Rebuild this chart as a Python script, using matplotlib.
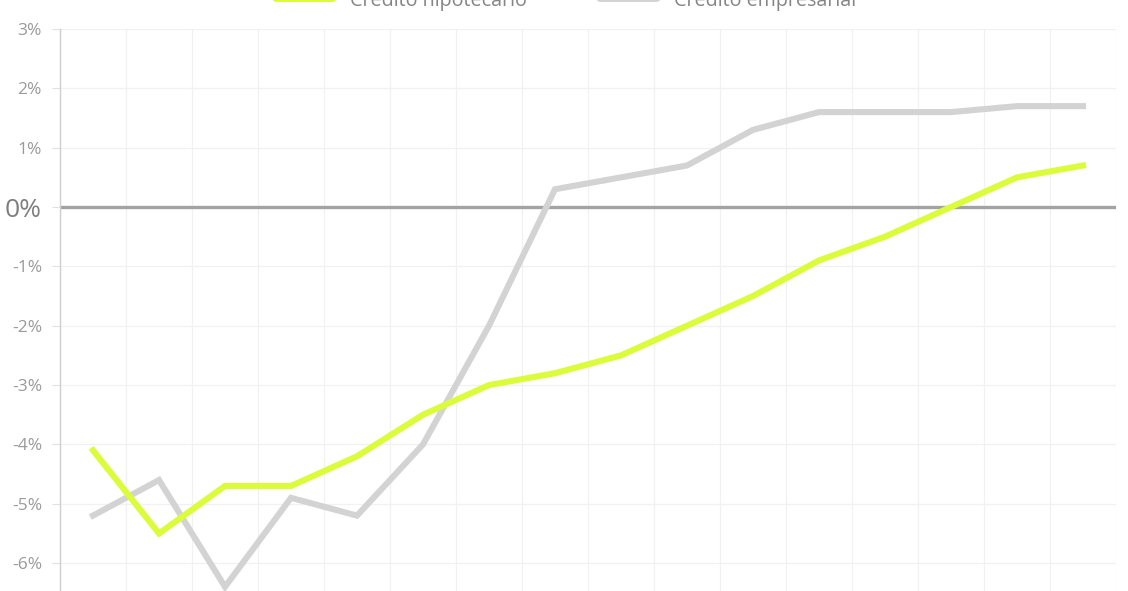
import matplotlib

matplotlib.use("Agg")

import matplotlib.pyplot as plt
from matplotlib.patches import FancyBboxPatch
from matplotlib.ticker import MultipleLocator

plt.rcParams["font.family"] = ["Open Sans", "DejaVu Sans"]

# periodos (16 puntos, sin etiquetas visibles en el recorte)
periods = list(range(16))
hipotecario = [-4.1, -5.5, -4.7, -4.7, -4.2, -3.5, -3.0, -2.8,
               -2.5, -2.0, -1.5, -0.9, -0.5, 0.0, 0.5, 0.7]
empresarial = [-5.2, -4.6, -6.4, -4.9, -5.2, -4.0, -2.0, 0.3,
               0.5, 0.7, 1.3, 1.6, 1.6, 1.6, 1.7, 1.7]
y_ticks = [3, 2, 1, 0, -1, -2, -3, -4, -5, -6]
series_names = ["Crédito hipotecario", "Crédito empresarial"]

GREEN = "#dcfb3a"
GREY = "#d3d3d3"
ZERO = "#a3a3a3"
GRID = "#f1f1f1"
LABEL = "#9a9a9a"

W, H = 1128, 591
fig = plt.figure(figsize=(W / 100, H / 100), dpi=100)
ax = fig.add_axes([60 / W, 0, (1116 - 60) / W, (591 - 29) / H])

ax.plot(periods, empresarial, color=GREY, lw=4.4, solid_joinstyle="miter", zorder=3)
ax.plot(periods, hipotecario, color=GREEN, lw=4.4, solid_joinstyle="miter", zorder=4)
ax.axhline(0, color=ZERO, lw=2.4, zorder=2)

ax.set_xlim(-0.5, 15.5)
ax.set_ylim(-6.47, 3)

ax.set_yticks(y_ticks)
ax.set_yticklabels([f"{t}%" for t in y_ticks])
ax.xaxis.set_major_locator(MultipleLocator(1, offset=0.5))
ax.set_xticklabels([])
ax.tick_params(axis="x", length=0)
ax.tick_params(axis="y", length=6, width=0.8, color="#e2e2e2", labelsize=12.5,
               labelcolor=LABEL, pad=7)
ax.grid(True, color=GRID, lw=0.9, zorder=0)

for lab in ax.get_yticklabels():
    if lab.get_text() == "0%":
        lab.set_fontsize(19)
        lab.set_color("#7e7e7e")

for side in ("top", "right", "bottom"):
    ax.spines[side].set_visible(False)
ax.spines["left"].set_color("#cfcfcf")
ax.spines["left"].set_linewidth(1.0)

# leyenda recortada en la parte superior, como en la captura
swatches = [(273, GREEN), (597, GREY)]
for (x0, col), name in zip(swatches, series_names):
    box = FancyBboxPatch((x0 / W, 1 - 2 / H), 63 / W, 14 / H,
                         boxstyle="round,pad=0,rounding_size=0.004",
                         transform=fig.transFigure, color=col, lw=0)
    fig.patches.append(box)
    fig.text((x0 + 77) / W, 1 - 6 / H, name, fontsize=14.2, color="#858585",
             va="baseline", ha="left")

fig.savefig("out.png", dpi=100)
